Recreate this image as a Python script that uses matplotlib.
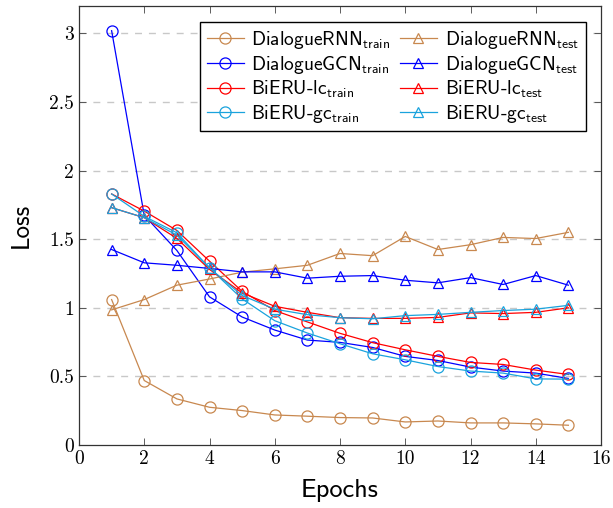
import matplotlib
matplotlib.use("Agg")
import matplotlib.pyplot as plt

epochs = list(range(1, 16))

rnn_train = [1.06, 0.47, 0.336, 0.275, 0.251, 0.219, 0.21, 0.2, 0.197, 0.168, 0.175, 0.161, 0.161, 0.154, 0.144]
rnn_test = [0.985, 1.06, 1.165, 1.21, 1.26, 1.284, 1.31, 1.396, 1.38, 1.52, 1.425, 1.46, 1.513, 1.505, 1.55]
gcn_train = [3.02, 1.674, 1.418, 1.08, 0.933, 0.838, 0.765, 0.748, 0.711, 0.646, 0.616, 0.568, 0.539, 0.524, 0.485]
gcn_test = [1.425, 1.328, 1.31, 1.287, 1.262, 1.262, 1.216, 1.23, 1.235, 1.201, 1.182, 1.22, 1.17, 1.235, 1.165]
lc_train = [1.83, 1.705, 1.564, 1.34, 1.12, 0.98, 0.897, 0.814, 0.746, 0.694, 0.646, 0.602, 0.587, 0.546, 0.514]
lc_test = [1.73, 1.657, 1.506, 1.28, 1.109, 1.011, 0.967, 0.928, 0.923, 0.923, 0.93, 0.963, 0.958, 0.967, 1.0]
gc_train = [1.83, 1.667, 1.547, 1.29, 1.065, 0.906, 0.816, 0.738, 0.665, 0.621, 0.572, 0.539, 0.524, 0.482, 0.48]
gc_test = [1.73, 1.657, 1.53, 1.29, 1.09, 0.99, 0.95, 0.928, 0.92, 0.943, 0.952, 0.967, 0.98, 0.99, 1.018]

models = ["DialogueRNN", "DialogueGCN", "BiERU-lc", "BiERU-gc"]
colors = ["#C8884F", "#0000FF", "#FF0000", "#1AA3DD"]
train_series = [rnn_train, gcn_train, lc_train, gc_train]
test_series = [rnn_test, gcn_test, lc_test, gc_test]

xticks = [0, 2, 4, 6, 8, 10, 12, 14, 16]
yticks = [0, 0.5, 1, 1.5, 2, 2.5, 3]
ytick_labels = ["0", "0.5", "1", "1.5", "2", "2.5", "3"]

plt.rcParams['mathtext.fontset'] = 'cm'

fig = plt.figure(figsize=(6.13, 5.08), dpi=100)
ax = fig.add_axes([79/613, 63/508, 522/613, 439/508])

handles = []
for m, c, s in zip(models, colors, train_series):
    h, = ax.plot(epochs, s, color=c, lw=0.9, marker='o', ms=8, mfc='none', mew=0.9,
                 label=m + r'$_{\mathsf{train}}$')
    handles.append(h)
for m, c, s in zip(models, colors, test_series):
    h, = ax.plot(epochs, s, color=c, lw=0.9, marker='^', ms=6.5, mfc='none', mew=0.9,
                 label=m + r'$_{\mathsf{test}}$')
    handles.append(h)

ax.set_xlim(0, 16)
ax.set_ylim(0, 3.2)
ax.set_xticks(xticks)
ax.set_xticklabels([str(t) for t in xticks], family='cmr10', fontsize=14)
ax.set_yticks(yticks)
ax.set_yticklabels(ytick_labels, family='cmr10', fontsize=14)
ax.tick_params(direction='in', length=5, width=0.6, top=True, right=True, color='#444444')
for sp in ax.spines.values():
    sp.set_linewidth(0.9)
    sp.set_color('#333333')

for y in yticks[1:]:
    ax.axhline(y, color='#C8C8C8', lw=1.0, ls=(0, (5, 5)), zorder=0)

ax.set_xlabel('Epochs', family='cmss10', fontsize=19, labelpad=8)
ax.set_ylabel('Loss', family='cmss10', fontsize=18, labelpad=12)

leg = ax.legend(handles=handles, ncol=2, loc='upper right', bbox_to_anchor=(0.971, 0.964),
                prop={'family': 'cmss10', 'size': 14}, frameon=True, fancybox=False,
                edgecolor='black', framealpha=1, handlelength=1.9, handletextpad=0.4,
                columnspacing=0.5, labelspacing=0.15, borderpad=0.35, borderaxespad=0)
leg.get_frame().set_linewidth(1.0)

fig.savefig('out.png', dpi=100)
